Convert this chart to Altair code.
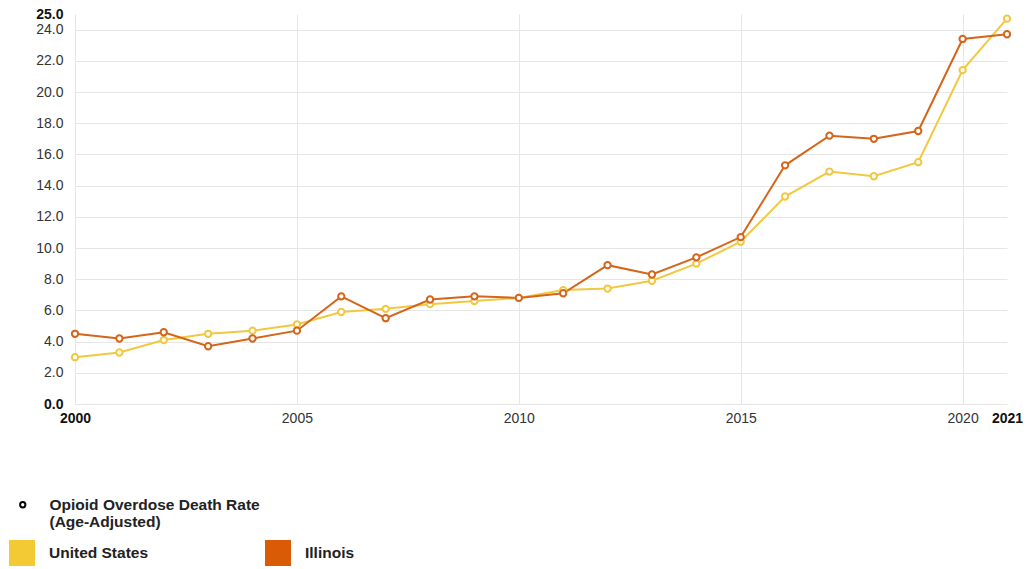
import altair as alt
import pandas as pd

years = list(range(2000, 2022))
us_rate = [3.0, 3.3, 4.1, 4.5, 4.7, 5.1, 5.9, 6.1, 6.4, 6.6, 6.8,
           7.3, 7.4, 7.9, 9.0, 10.4, 13.3, 14.9, 14.6, 15.5, 21.4, 24.7]
il_rate = [4.5, 4.2, 4.6, 3.7, 4.2, 4.7, 6.9, 5.5, 6.7, 6.9, 6.8,
           7.1, 8.9, 8.3, 9.4, 10.7, 15.3, 17.2, 17.0, 17.5, 23.4, 23.7]
regions = ["United States", "Illinois"]
line_colors = ["#f2c840", "#d4651a"]
legend_colors = ["#f3c934", "#d95b06"]
measure = "Opioid Overdose Death Rate (Age-Adjusted)"
x_ticks = [2000, 2005, 2010, 2015, 2020, 2021]
y_ticks = [0, 2, 4, 6, 8, 10, 12, 14, 16, 18, 20, 22, 24, 25]

rows = []
for name, vals in zip(regions, [us_rate, il_rate]):
    for y, v in zip(years, vals):
        rows.append({"year": y, "region": name, "rate": v, "measure": measure})
df = pd.DataFrame(rows)

FONT = "Liberation Sans"

x = alt.X("year:Q",
          scale=alt.Scale(domain=[2000, 2021], nice=False, zero=False),
          axis=alt.Axis(values=x_ticks, format="d", title=None, domain=False, ticks=False,
                        labelFlush=False, labelOverlap=False, labelPadding=7,
                        labelFontWeight={"condition": {"test": "datum.value == 2000 || datum.value == 2021", "value": "bold"}, "value": "normal"},
                        labelColor={"condition": {"test": "datum.value == 2000 || datum.value == 2021", "value": "#111"}, "value": "#333"},
                        gridOpacity={"condition": {"test": "datum.value == 2021", "value": 0}, "value": 1}))
y = alt.Y("rate:Q",
          scale=alt.Scale(domain=[0, 25], nice=False, zero=True),
          axis=alt.Axis(values=y_ticks, format=".1f", title=None, domain=False, ticks=False,
                        labelFlush=False, labelOverlap=False, labelPadding=12,
                        labelFontWeight={"condition": {"test": "datum.value == 0 || datum.value == 25", "value": "bold"}, "value": "normal"},
                        labelColor={"condition": {"test": "datum.value == 0 || datum.value == 25", "value": "#111"}, "value": "#333"},
                        gridOpacity={"condition": {"test": "datum.value == 25", "value": 0}, "value": 1}))

layers = []
for name, col in zip(regions, line_colors):
    base = alt.Chart(df).transform_filter(alt.datum.region == name)
    layers.append(base.mark_line(strokeWidth=2, color=col).encode(x=x, y=y))
for name, col in zip(regions, line_colors):
    base = alt.Chart(df).transform_filter(alt.datum.region == name)
    layers.append(base.mark_point(filled=False, fill="white", stroke=col, size=40,
                                  strokeWidth=2, opacity=1).encode(x=x, y=y))

color_legend = alt.Chart(df).transform_filter("false").mark_square(filled=True, size=676).encode(
    color=alt.Color("region:N", scale=alt.Scale(domain=regions, range=legend_colors),
                    legend=alt.Legend(orient="none", legendX=-66, legendY=526, direction="horizontal",
                                      title=None, symbolType="square", symbolSize=676, symbolStrokeWidth=0,
                                      symbolOpacity=1,
                                      labelFont=FONT, labelFontSize=15.5, labelFontWeight="bold",
                                      labelColor="#222", labelOffset=14, columnPadding=116, padding=0))
)

shape_legend = alt.Chart(df).transform_filter("false").mark_point(filled=False).encode(
    shape=alt.Shape("measure:N", scale=alt.Scale(domain=[measure], range=["circle"]),
                    legend=alt.Legend(orient="none", legendX=-60, legendY=483, title=None,
                                      symbolSize=28,
                                      symbolStrokeColor="black", symbolFillColor="white",
                                      symbolStrokeWidth=2, symbolOpacity=1,
                                      labelExpr="['Opioid Overdose Death Rate', '(Age-Adjusted)']",
                                      labelFont=FONT, labelFontSize=15.5, labelFontWeight="bold",
                                      labelColor="#222", labelOffset=19, padding=0, labelLimit=400))
)

chart = alt.layer(*layers, color_legend, shape_legend).properties(
    width=932, height=390,
    autosize=alt.AutoSizeParams(type="none"),
    padding={"left": 75, "top": 14, "right": 21, "bottom": 165},
    background="white",
).configure_view(stroke=None).configure_axis(
    labelFont=FONT, labelFontSize=14, gridColor="#e6e6e6", gridWidth=1
)

chart.save("out.html", embed_options={"renderer": "svg", "actions": False})
